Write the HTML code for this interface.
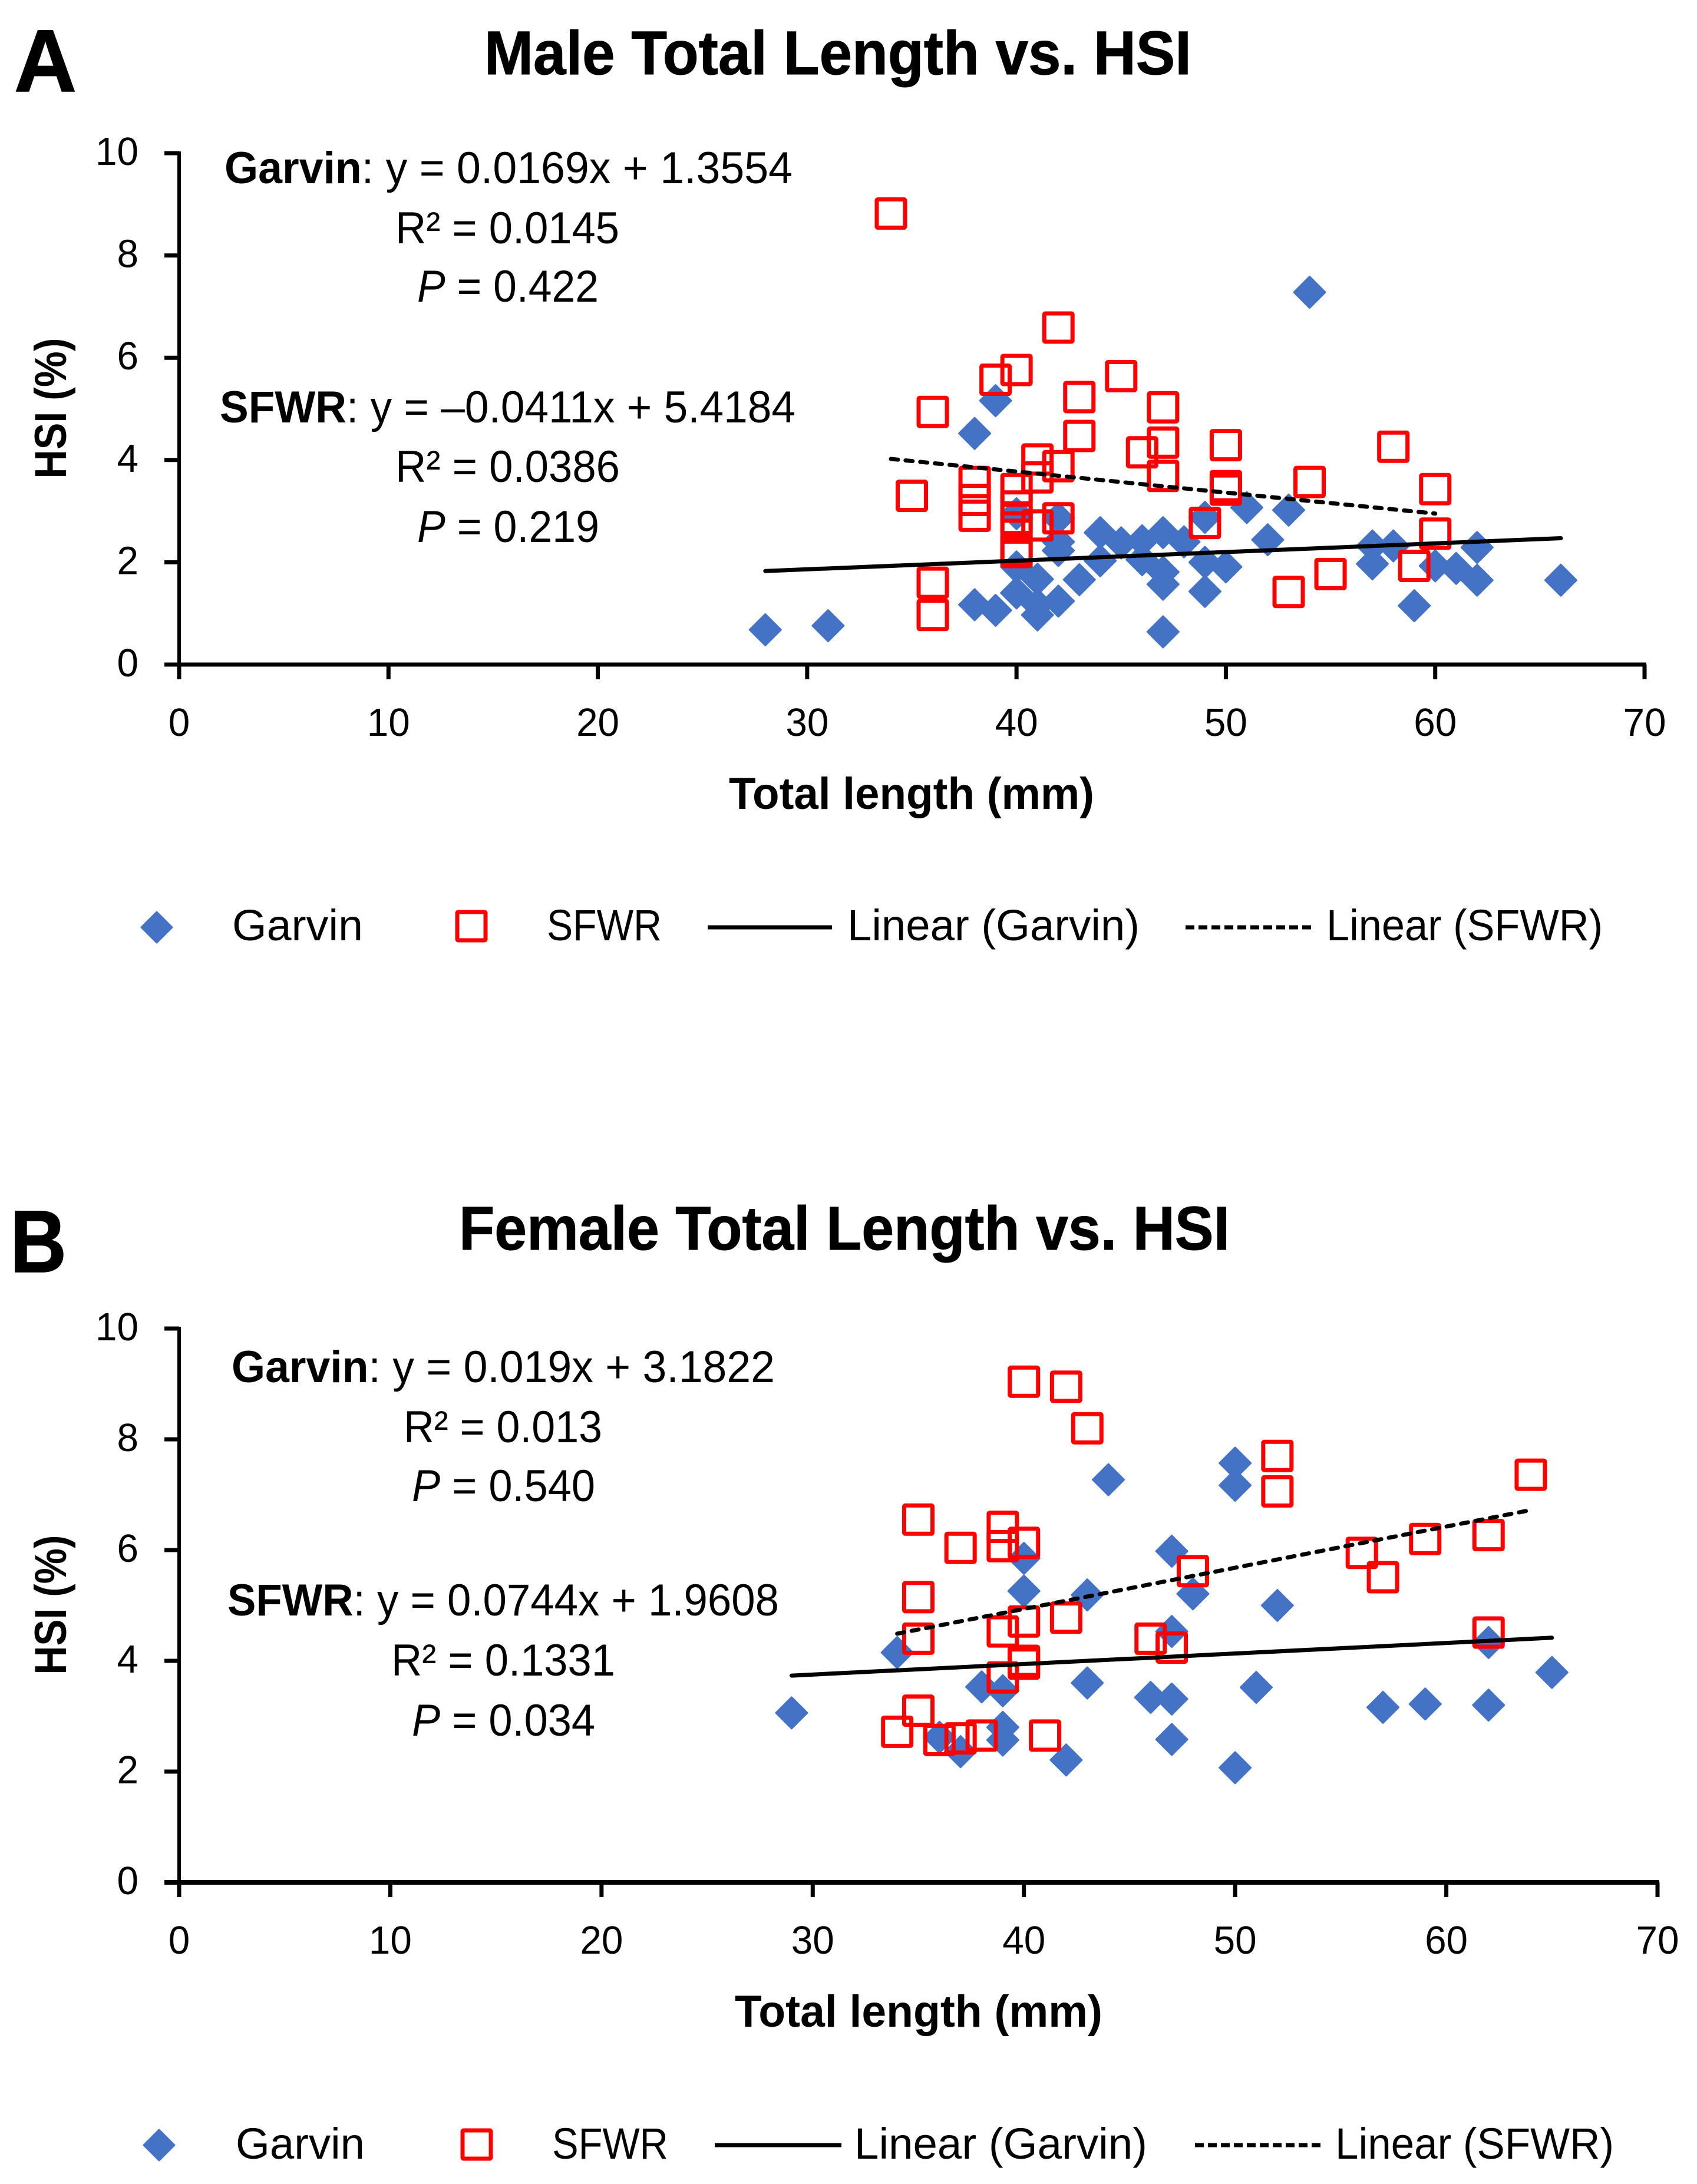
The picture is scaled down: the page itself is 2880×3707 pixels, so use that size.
<!DOCTYPE html>
<html lang="en">
<head>
<meta charset="utf-8">
<title>Total Length vs. HSI</title>
<style>
html,body{margin:0;padding:0;background:#fff;width:2880px;height:3707px;overflow:hidden}
svg{display:block}
text{font-family:"Liberation Sans",sans-serif;fill:#000}
.b{font-weight:bold}
.i{font-style:italic}
.panel{font-size:150px;font-weight:bold;stroke:#000;stroke-width:1.5px}
.title{font-size:105px;font-weight:bold;stroke:#000;stroke-width:1px}
.axt{font-size:76px;font-weight:bold}
.ann{font-size:76px}
.leg{font-size:74px}
.tick{font-size:67px}
</style>
</head>
<body>
<svg id="fig" xmlns="http://www.w3.org/2000/svg" width="2880" height="3707" viewBox="0 0 2880 3707">
  <rect x="0" y="0" width="2880" height="3707" fill="#fff"/>

  <g id="chartA">
    <text class="panel" x="24" y="155" textLength="106" lengthAdjust="spacingAndGlyphs">A</text>
    <text class="title" x="822" y="126" textLength="1200" lengthAdjust="spacingAndGlyphs">Male Total Length vs. HSI</text>
    <text class="axt" x="1237" y="1373" textLength="620" lengthAdjust="spacingAndGlyphs">Total length (mm)</text>
    <text class="axt" text-anchor="middle" transform="translate(112 693) rotate(-90)" textLength="239" lengthAdjust="spacingAndGlyphs">HSI (%)</text>
    <text class="ann" x="381" y="311" textLength="964" lengthAdjust="spacingAndGlyphs"><tspan class="b">Garvin</tspan>: y = 0.0169x + 1.3554</text>
    <text class="ann" x="671" y="413" textLength="380" lengthAdjust="spacingAndGlyphs">R² = 0.0145</text>
    <text class="ann" x="708" y="512" textLength="308" lengthAdjust="spacingAndGlyphs"><tspan class="i">P</tspan> = 0.422</text>
    <text class="ann" x="373" y="717" textLength="977" lengthAdjust="spacingAndGlyphs"><tspan class="b">SFWR</tspan>: y = –0.0411x + 5.4184</text>
    <text class="ann" x="671" y="818" textLength="381" lengthAdjust="spacingAndGlyphs">R² = 0.0386</text>
    <text class="ann" x="708" y="920" textLength="309" lengthAdjust="spacingAndGlyphs"><tspan class="i">P</tspan> = 0.219</text>
    <g>
      <polygon points="266,1548 292,1574 266,1600 240,1574" fill="#4472C4" stroke="#4472C4" stroke-width="3" stroke-linejoin="round"/>
      <text class="leg" x="394" y="1596" textLength="222" lengthAdjust="spacingAndGlyphs">Garvin</text>
      <rect x="776" y="1548" width="48" height="48" fill="none" stroke="#FF0000" stroke-width="7" rx="2"/>
      <text class="leg" x="928" y="1596" textLength="195" lengthAdjust="spacingAndGlyphs">SFWR</text>
      <line x1="1201" y1="1574" x2="1412" y2="1574" stroke="#000" stroke-width="7"/>
      <text class="leg" x="1438" y="1596" textLength="496" lengthAdjust="spacingAndGlyphs">Linear (Garvin)</text>
      <line x1="2012" y1="1574" x2="2228" y2="1574" stroke="#000" stroke-width="7" stroke-dasharray="15 7"/>
      <text class="leg" x="2251" y="1596" textLength="469" lengthAdjust="spacingAndGlyphs">Linear (SFWR)</text>
    </g>
  </g>

  <g id="chartB">
    <text class="panel" x="17" y="2159" textLength="96" lengthAdjust="spacingAndGlyphs">B</text>
    <text class="title" x="779" y="2121" textLength="1308" lengthAdjust="spacingAndGlyphs">Female Total Length vs. HSI</text>
    <text class="axt" x="1247" y="3440" textLength="624" lengthAdjust="spacingAndGlyphs">Total length (mm)</text>
    <text class="axt" text-anchor="middle" transform="translate(112 2724) rotate(-90)" textLength="237" lengthAdjust="spacingAndGlyphs">HSI (%)</text>
    <text class="ann" x="393" y="2346" textLength="922" lengthAdjust="spacingAndGlyphs"><tspan class="b">Garvin</tspan>: y = 0.019x + 3.1822</text>
    <text class="ann" x="685" y="2448" textLength="337" lengthAdjust="spacingAndGlyphs">R² = 0.013</text>
    <text class="ann" x="699" y="2548" textLength="311" lengthAdjust="spacingAndGlyphs"><tspan class="i">P</tspan> = 0.540</text>
    <text class="ann" x="386" y="2742" textLength="936" lengthAdjust="spacingAndGlyphs"><tspan class="b">SFWR</tspan>: y = 0.0744x + 1.9608</text>
    <text class="ann" x="664" y="2844" textLength="380" lengthAdjust="spacingAndGlyphs">R² = 0.1331</text>
    <text class="ann" x="699" y="2946" textLength="311" lengthAdjust="spacingAndGlyphs"><tspan class="i">P</tspan> = 0.034</text>
    <g>
      <polygon points="270,3615 296,3641 270,3667 244,3641" fill="#4472C4" stroke="#4472C4" stroke-width="3" stroke-linejoin="round"/>
      <text class="leg" x="400" y="3664" textLength="219" lengthAdjust="spacingAndGlyphs">Garvin</text>
      <rect x="785" y="3616" width="48" height="48" fill="none" stroke="#FF0000" stroke-width="7" rx="2"/>
      <text class="leg" x="937" y="3664" textLength="197" lengthAdjust="spacingAndGlyphs">SFWR</text>
      <line x1="1213" y1="3641" x2="1428" y2="3641" stroke="#000" stroke-width="7"/>
      <text class="leg" x="1450" y="3664" textLength="497" lengthAdjust="spacingAndGlyphs">Linear (Garvin)</text>
      <line x1="2028" y1="3641" x2="2245" y2="3641" stroke="#000" stroke-width="7" stroke-dasharray="15 7"/>
      <text class="leg" x="2266" y="3664" textLength="473" lengthAdjust="spacingAndGlyphs">Linear (SFWR)</text>
    </g>
  </g>
</svg>

<script>
// ---- Axis tick labels ----
const xTickLabels = [0, 10, 20, 30, 40, 50, 60, 70];
const yTickLabels = [0, 2, 4, 6, 8, 10];

// ---- Male chart data ----
const maleGarvinLength = [28,31,38,38,39,39,40,40,40,41,41,41,42,42,42,42,43,44,44,45,46,46,47,47,47,47,48,49,49,49,50,51,52,53,54,57,57,58,59,60,61,62,62,66];
const maleGarvinHsi = [0.68,0.76,4.52,1.17,5.16,1.06,2.95,1.91,1.40,1.67,1.17,0.97,2.86,2.40,2.23,1.24,1.66,2.58,2.03,2.38,2.42,2.05,2.58,1.81,1.57,0.64,2.40,2.88,2.00,1.43,1.91,3.07,2.44,3.02,7.28,2.32,1.97,2.32,1.15,1.93,1.88,2.29,1.65,1.65];
const maleSfwrLength = [34,35,36,36,36,38,38,38,39,40,40,40,40,40,40,40,41,41,41,42,42,42,43,43,45,46,47,47,47,49,50,50,50,53,54,55,58,59,60,60];
const maleSfwrHsi = [8.82,3.30,4.94,1.60,0.97,3.57,3.22,2.91,5.57,5.76,3.43,3.09,2.85,2.68,2.25,2.20,4.01,3.66,2.72,6.59,3.88,2.86,5.23,4.47,5.64,4.15,5.03,4.34,3.69,2.77,4.29,3.49,3.42,1.42,3.57,1.77,4.26,1.93,3.43,2.56];
const maleGarvinTrend = [0.0169, 1.3554];
const maleGarvinTrendRange = [28, 66];
const maleSfwrTrend = [-0.0411, 5.4184];
const maleSfwrTrendRange = [34, 60];

// ---- Female chart data ----
const femaleGarvinLength = [29,34,36,37,38,39,39,39,40,40,42,43,43,44,46,47,47,47,47,48,50,50,50,51,52,57,59,62,62,65];
const femaleGarvinHsi = [3.06,4.15,2.62,2.36,3.53,3.46,2.80,2.57,5.85,5.26,2.21,5.19,3.60,7.27,3.34,5.98,4.53,3.31,2.58,5.21,7.57,7.17,2.07,3.52,5.00,3.16,3.22,4.33,3.20,3.79];
const femaleSfwrLength = [34,35,35,35,35,36,37,37,38,39,39,39,39,40,40,40,40,40,41,42,42,43,46,47,48,52,52,56,57,59,62,62,64];
const femaleSfwrHsi = [2.72,6.55,5.15,4.40,3.10,2.57,6.04,2.60,2.65,6.42,6.07,4.53,3.70,9.04,6.13,4.71,4.00,3.95,2.65,8.95,4.78,8.20,4.40,4.24,5.62,7.70,7.06,5.95,5.51,6.20,6.27,4.51,7.36];
const femaleGarvinTrend = [0.019, 3.1822];
const femaleGarvinTrendRange = [29, 65];
const femaleSfwrTrend = [0.0744, 1.9608];
const femaleSfwrTrendRange = [34, 64];

const NS = 'http://www.w3.org/2000/svg';

function make(tag, parent, attrs) {
  const el = document.createElementNS(NS, tag);
  for (const k in attrs) el.setAttribute(k, attrs[k]);
  parent.appendChild(el);
  return el;
}

function drawChart(cfg) {
  const root = document.getElementById(cfg.id);
  const sx = v => cfg.x0 + (v - 0) * (cfg.x70 - cfg.x0) / 70;
  const sy = v => cfg.y0 - (v - 0) * (cfg.y0 - cfg.y10) / 10;

  const axes = make('g', root, {});
  
  

  xTickLabels.forEach(v => {
    const tick = make('line', axes, { x1: sx(v), x2: sx(v), y1: cfg.y0, y2: cfg.y0 + 25, stroke: '#000', 'stroke-width': 7 });
    
    
    const label = make('text', axes, { class: 'tick', x: sx(v), y: cfg.xLabelY, 'text-anchor': 'middle', textLength: String(v).length * 36.5, lengthAdjust: 'spacingAndGlyphs' });
    
    
    label.textContent = v;
  });

  yTickLabels.forEach(v => {
    const tick = make('line', axes, { x1: 279, x2: cfg.x0, y1: sy(v), y2: sy(v), stroke: '#000', 'stroke-width': 7 });
    
    
    const label = make('text', axes, { class: 'tick', x: 235, y: sy(v) + 20, 'text-anchor': 'end', textLength: String(v).length * 36.5, lengthAdjust: 'spacingAndGlyphs' });
    
    
    label.textContent = v;
  });

  const yAxis = make('line', axes, { x1: cfg.x0, x2: cfg.x0, y1: sy(10) - 3, y2: sy(0), stroke: '#000', 'stroke-width': 6 });
  
  
  const xAxis = make('line', axes, { x1: 279, x2: sx(70) + 3, y1: sy(0), y2: sy(0), stroke: '#000', 'stroke-width': cfg.axisWidth });
  
  

  const garvinGroup = make('g', root, {});
  
  
  cfg.garvinX.forEach((xv, i) => {
    const cx = sx(xv), cy = sy(cfg.garvinY[i]), r = 26.5;
    const p = make('polygon', garvinGroup, {
      points: `${cx},${cy - r} ${cx + r},${cy} ${cx},${cy + r} ${cx - r},${cy}`,
      fill: '#4472C4', stroke: '#4472C4', 'stroke-width': 3, 'stroke-linejoin': 'round'
    });
    
    
  });

  const sfwrGroup = make('g', root, {});
  
  
  cfg.sfwrX.forEach((xv, i) => {
    const cx = sx(xv), cy = sy(cfg.sfwrY[i]);
    const s = make('rect', sfwrGroup, {
      x: cx - 24, y: cy - 24, width: 48, height: 48, rx: 2,
      fill: 'none', stroke: '#FF0000', 'stroke-width': 7
    });
    
    
  });

  const tg = make('line', root, {
    x1: sx(cfg.garvinRange[0]), y1: sy(cfg.garvinTrend[0] * cfg.garvinRange[0] + cfg.garvinTrend[1]),
    x2: sx(cfg.garvinRange[1]), y2: sy(cfg.garvinTrend[0] * cfg.garvinRange[1] + cfg.garvinTrend[1]),
    stroke: '#000', 'stroke-width': 7, 'stroke-linecap': 'round'
  });
  
  

  const ts = make('line', root, {
    x1: sx(cfg.sfwrRange[0]), y1: sy(cfg.sfwrTrend[0] * cfg.sfwrRange[0] + cfg.sfwrTrend[1]),
    x2: sx(cfg.sfwrRange[1]), y2: sy(cfg.sfwrTrend[0] * cfg.sfwrRange[1] + cfg.sfwrTrend[1]),
    stroke: '#000', 'stroke-width': 7, 'stroke-linecap': 'round', 'stroke-dasharray': '12 13'
  });
  
  
}

drawChart({
  id: 'chartA', prefix: 'male',
  x0: 304, x70: 2791, y0: 1128, y10: 260, xLabelY: 1249, axisWidth: 7,
  garvinX: maleGarvinLength, garvinY: maleGarvinHsi,
  sfwrX: maleSfwrLength, sfwrY: maleSfwrHsi,
  garvinTrend: maleGarvinTrend, garvinRange: maleGarvinTrendRange,
  sfwrTrend: maleSfwrTrend, sfwrRange: maleSfwrTrendRange
});

drawChart({
  id: 'chartB', prefix: 'female',
  x0: 304, x70: 2813, y0: 3195, y10: 2255, xLabelY: 3316, axisWidth: 8,
  garvinX: femaleGarvinLength, garvinY: femaleGarvinHsi,
  sfwrX: femaleSfwrLength, sfwrY: femaleSfwrHsi,
  garvinTrend: femaleGarvinTrend, garvinRange: femaleGarvinTrendRange,
  sfwrTrend: femaleSfwrTrend, sfwrRange: femaleSfwrTrendRange
});
</script>
</body>
</html>
